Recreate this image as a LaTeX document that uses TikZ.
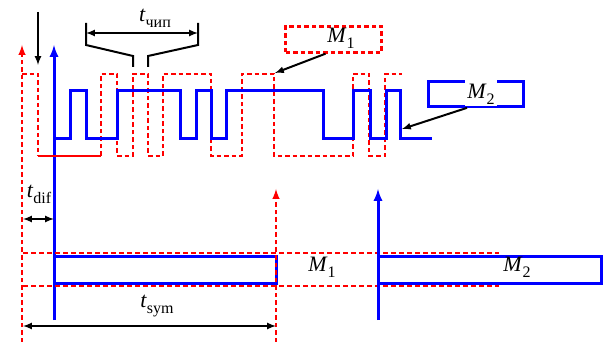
\documentclass[tikz,border=0pt]{standalone}
\usepackage{fontspec}
\setmainfont{Liberation Serif}
\usetikzlibrary{arrows}
\newcommand{\symlab}[2]{\textit{#1}\raisebox{-6pt}{\fontsize{16}{16}\selectfont #2}}

\begin{document}
\begin{tikzpicture}[x=1pt, y=-1pt, >=latex,
		font=\fontsize{22}{24}\selectfont,
		sigone/.style={red, line width=2.4pt, dash pattern=on 4.5pt off 3pt},
		sigtwo/.style={blue, line width=3pt},
		guide/.style={red, line width=1.6pt, dash pattern=on 5pt off 3pt},
		pointer/.style={black, line width=2pt, ->},
		span/.style={black, line width=2pt, <->},
		lab/.style={inner sep=1pt}]
		\useasboundingbox (0, 0) rectangle (603, 342);
		% draw axes
		\coordinate (redbot) at (22, 342);
		\coordinate (redtop) at (22, 45);
		\coordinate (bluebot) at (54, 320);
		\coordinate (bluetop) at (54, 45);
		\draw [sigone, ->] (redbot) -- (redtop);
		\draw [sigtwo, ->] (bluebot) -- (bluetop);
		% draw start arrow
		\coordinate (startup) at (38, 12);
		\coordinate (startdn) at (38, 65);
		\draw [pointer] (startup) -- (startdn);
		% draw red code
		\draw [sigone] (22, 74) -- (38, 74) -- (38, 156);
		\draw [red, line width=1.6pt] (38, 156) -- (101, 156);
		\draw [sigone] (101, 156) -- (101, 74) -- (117, 74) -- (117, 156) -- (133, 156)
			-- (133, 74) -- (148, 74) -- (148, 156) -- (163, 156) -- (163, 74) -- (211, 74)
			-- (211, 156) -- (242, 156) -- (242, 74) -- (274, 74) -- (274, 156) -- (353, 156)
			-- (353, 74) -- (369, 74) -- (369, 156) -- (385, 156) -- (385, 74) -- (402, 74);
		% draw blue code
		\draw [sigtwo] (54, 139) -- (70, 139) -- (70, 91) -- (86, 91) -- (86, 139) -- (117, 139)
			-- (117, 91) -- (180, 91) -- (180, 139) -- (196, 139) -- (196, 91) -- (211, 91)
			-- (211, 139) -- (226, 139) -- (226, 91) -- (323, 91) -- (323, 139) -- (353, 139)
			-- (353, 91) -- (370, 91) -- (370, 139) -- (386, 139) -- (386, 91) -- (400, 91)
			-- (400, 139) -- (432, 139);
		% draw chip bracket
		\draw [black, line width=2pt] (86, 23) -- (86, 45) -- (133, 56) -- (133, 67);
		\draw [black, line width=2pt] (198, 23) -- (198, 45) -- (148, 56) -- (148, 67);
		\coordinate (chipl) at (86, 33);
		\coordinate (chipr) at (198, 33);
		\draw [span] (chipl) -- (chipr);
		\node [lab] (tchip) at (155, 18) {\symlab{t}{чип}};
		% draw legend boxes
		\node [draw=red, line width=2.4pt, dash pattern=on 4.5pt off 3pt,
			minimum width=96, minimum height=26] (boxone) at (333.5, 39.5) {};
		\node [lab] (labone) at (341, 38) {\symlab{M}{1}};
		\node [draw=blue, line width=2.7pt, minimum width=95, minimum height=25] (boxtwo) at (476, 94) {};
		\node [lab, fill=white, anchor=base, text height=19pt, inner xsep=2pt] (labtwo) at (481, 99) {\symlab{M}{2}};
		\coordinate (cornerone) at (275, 73);
		\coordinate (cornertwo) at (402, 129);
		\draw [pointer] ([xshift=-8]boxone.south) -- (cornerone);
		\draw [pointer] ([xshift=-9]boxtwo.south) -- (cornertwo);
		% draw symbols
		\draw [guide] (23, 253) -- (499, 253);
		\draw [guide] (23, 286) -- (499, 286);
		\draw [sigtwo] (54, 256) rectangle (276, 283);
		\draw [sigtwo] (378, 256) rectangle (601, 283);
		\coordinate (symonebot) at (276, 342);
		\coordinate (symonetop) at (276, 189);
		\coordinate (symtwobot) at (378, 320);
		\coordinate (symtwotop) at (378, 189);
		\draw [sigone, ->] (symonebot) -- (symonetop);
		\draw [sigtwo, ->] (symtwobot) -- (symtwotop);
		\node [lab] (symone) at (322, 267) {\symlab{M}{1}};
		\node [lab] (symtwo) at (517, 267) {\symlab{M}{2}};
		% draw time spans
		\coordinate (difl) at (23, 219);
		\coordinate (difr) at (54, 219);
		\draw [span] (difl) -- (difr);
		\node [lab] (tdif) at (39, 194) {\symlab{t}{dif}};
		\coordinate (syml) at (23, 326);
		\coordinate (symr) at (276, 326);
		\draw [span] (syml) -- (symr);
		\node [lab] (tsym) at (157, 306) {\symlab{t}{sym}};
	\end{tikzpicture}
\end{document}
